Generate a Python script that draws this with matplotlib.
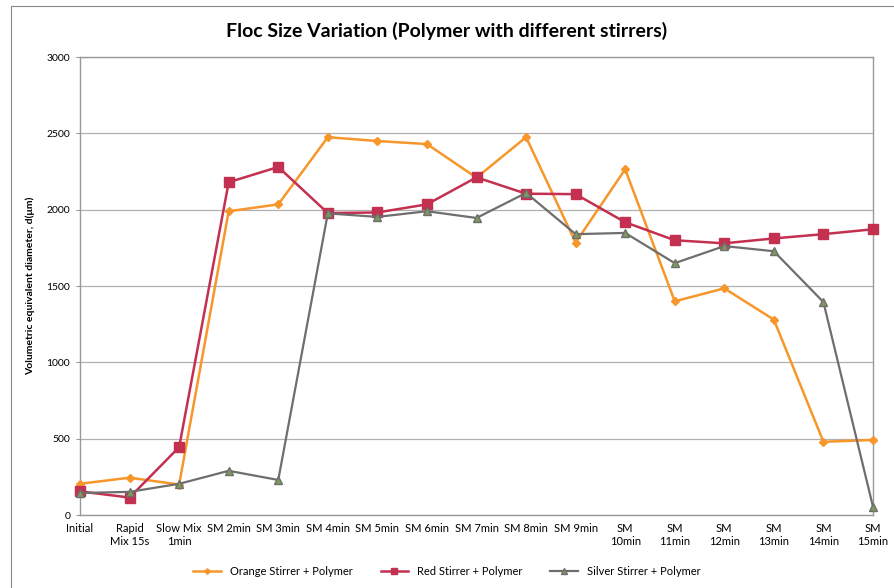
import matplotlib
matplotlib.use("Agg")
import matplotlib.pyplot as plt
from matplotlib.patches import Rectangle

plt.rcParams['font.family'] = ['Lato', 'DejaVu Sans']

categories = ["Initial", "Rapid\nMix 15s", "Slow Mix\n1min", "SM 2min", "SM 3min", "SM 4min",
              "SM 5min", "SM 6min", "SM 7min", "SM 8min", "SM 9min", "SM\n10min", "SM\n11min",
              "SM\n12min", "SM\n13min", "SM\n14min", "SM\n15min"]
orange = [205, 245, 200, 1990, 2035, 2475, 2450, 2430, 2210, 2475, 1785, 2265, 1400, 1485, 1280, 480, 492]
red = [155, 115, 445, 2180, 2280, 1978, 1982, 2035, 2212, 2105, 2102, 1918, 1800, 1780, 1812, 1840, 1872]
silver = [145, 152, 205, 290, 230, 1976, 1953, 1990, 1946, 2110, 1840, 1848, 1650, 1762, 1728, 1395, 55]
yticks = [0, 500, 1000, 1500, 2000, 2500, 3000]

fig = plt.figure(figsize=(8.94, 5.88), dpi=100)
ax = fig.add_axes([0.0895, 0.124, 0.887, 0.779])

x = list(range(len(categories)))
ax.plot(x, orange, color='#F7962A', lw=1.8, marker='D', ms=4, mfc='#F7962A', mec='#F7962A',
        label='Orange Stirrer + Polymer', zorder=3, clip_on=False)
ax.plot(x, red, color='#C4304F', lw=1.8, marker='s', ms=6.5, mfc='#C4304F', mec='#C4304F',
        label='Red Stirrer + Polymer', zorder=3, clip_on=False)
ax.plot(x, silver, color='#6E6E6E', lw=1.6, marker='^', ms=6, mfc='#7E9A5A', mec='#6E6E6E',
        label='Silver Stirrer + Polymer', zorder=4, clip_on=False)

ax.set_xlim(0, len(categories) - 1)
ax.set_ylim(0, 3000)
ax.set_yticks(yticks)
ax.set_yticklabels([str(v) for v in yticks], fontsize=7.5)
ax.set_xticks(x)
ax.set_xticklabels(categories, fontsize=8)
ax.tick_params(axis='x', length=0, pad=6)
ax.tick_params(axis='y', length=3, color='#999999', pad=4)
ax.grid(axis='y', color='#B0B0B0', lw=0.9)
ax.set_axisbelow(True)
for s in ax.spines.values():
    s.set_color('#999999')
    s.set_linewidth(1.0)

ax.set_ylabel('Volumetric equivalent diameter, d(\u03bcm)', fontsize=7.5, fontweight='bold', labelpad=8)
fig.text(0.5, 0.947, 'Floc Size Variation (Polymer with different stirrers)', ha='center', va='center',
         fontsize=14, fontweight='bold')

fig.legend(loc='center', bbox_to_anchor=(0.5, 0.028), ncol=3, frameon=False, fontsize=8,
           handlelength=2.5, columnspacing=2.5, markerscale=0.7)

fig.patches.append(Rectangle((0.012, -0.05), 1.5, 1.04, transform=fig.transFigure, fill=False,
                             edgecolor='#888888', lw=0.8))

fig.savefig('out.png', dpi=100)
